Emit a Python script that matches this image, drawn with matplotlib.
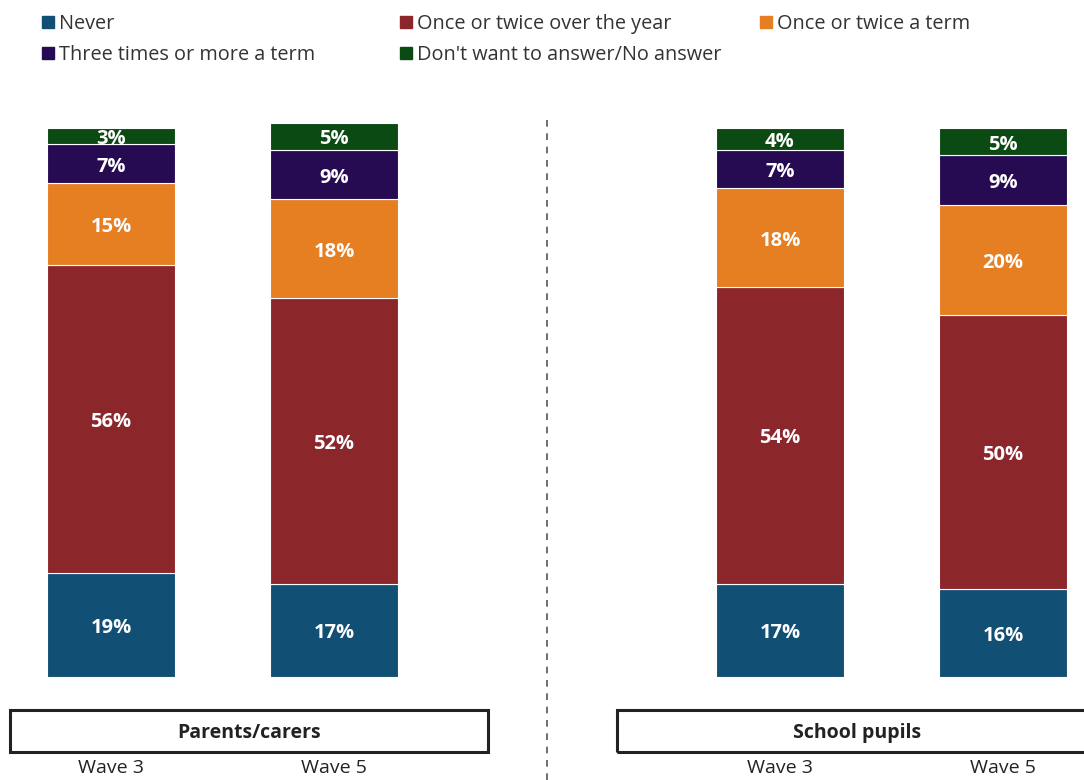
import matplotlib
matplotlib.use("Agg")
import matplotlib.pyplot as plt
from matplotlib.patches import Rectangle
from matplotlib.lines import Line2D
import numpy as np

plt.rcParams['font.family'] = ['Open Sans', 'DejaVu Sans']

categories = ["Never", "Once or twice over the year", "Once or twice a term",
              "Three times or more a term", "Don't want to answer/No answer"]
colors = ["#124f74", "#8b262b", "#e67e22", "#260a52", "#0b4a12"]

wave_labels = ["Wave 3", "Wave 5", "Wave 3", "Wave 5"]
group_labels = ["Parents/carers", "School pupils"]

# one list per category: parents W3, parents W5, pupils W3, pupils W5
never = [19, 17, 17, 16]
once_year = [56, 52, 54, 50]
once_term = [15, 18, 18, 20]
three_plus = [7, 9, 7, 9]
no_answer = [3, 5, 4, 5]
series = [never, once_year, once_term, three_plus, no_answer]

W, H = 1084, 780
fig = plt.figure(figsize=(W / 100, H / 100), dpi=100)

# bar area: pixel rows 128..677
ax = fig.add_axes([0, (H - 677) / H, 1, (677 - 128) / H])
x = np.array([0, 1, 3, 4])
unit = 223
ax.set_xlim(-111 / unit, (W - 111) / unit)
ax.set_ylim(0, 100)
ax.axis("off")

bottom = np.zeros(len(x))
for vals, col in zip(series, colors):
    vals = np.array(vals, dtype=float)
    ax.bar(x, vals, width=128 / unit, bottom=bottom, color=col,
           edgecolor="white", linewidth=0.8, clip_on=False)
    for xi, b, v in zip(x, bottom, vals):
        ax.annotate(f"{v:.0f}%", (xi, b + v / 2), xytext=(0, -3),
                    textcoords="offset pixels", ha="center", va="center",
                    color="white", fontsize=14.5, fontweight="bold")
    bottom += vals

# legend, laid out in fixed columns
leg_pos = [(42, 22), (400, 22), (760, 22), (42, 53), (400, 53)]
for (px, py), lab, col in zip(leg_pos, categories, colors):
    fig.patches.append(Rectangle((px / W, 1 - (py + 6) / H), 12 / W, 12 / H,
                                 transform=fig.transFigure, color=col))
    fig.text((px + 17) / W, 1 - (py + 2) / H, lab, ha="left", va="center",
             fontsize=14.3, color="#333333")

# dashed divider between the two groups
fig.add_artist(Line2D([547 / W, 547 / W], [0, 1 - 120 / H],
                      transform=fig.transFigure, color="#555555",
                      linewidth=1.2, linestyle=(0, (4, 4))))

# group boxes
boxes = [(10, 488, 249), (617, 1100, 857)]
for (x0, x1, cx), lab in zip(boxes, group_labels):
    fig.patches.append(Rectangle((x0 / W, 1 - 752 / H), (x1 - x0) / W, 42 / H,
                                 transform=fig.transFigure, fill=False,
                                 edgecolor="#222222", linewidth=2.2))
    fig.text(cx / W, 1 - 733 / H, lab, ha="center", va="center",
             fontsize=14, fontweight="bold", color="#222222")

# wave labels under each bar
for xi, lab in zip(x, wave_labels):
    px = 111 + xi * unit
    fig.text(px / W, 1 - 768 / H, lab, ha="center", va="center",
             fontsize=14, color="#222222")

fig.savefig("out.png", dpi=100)
